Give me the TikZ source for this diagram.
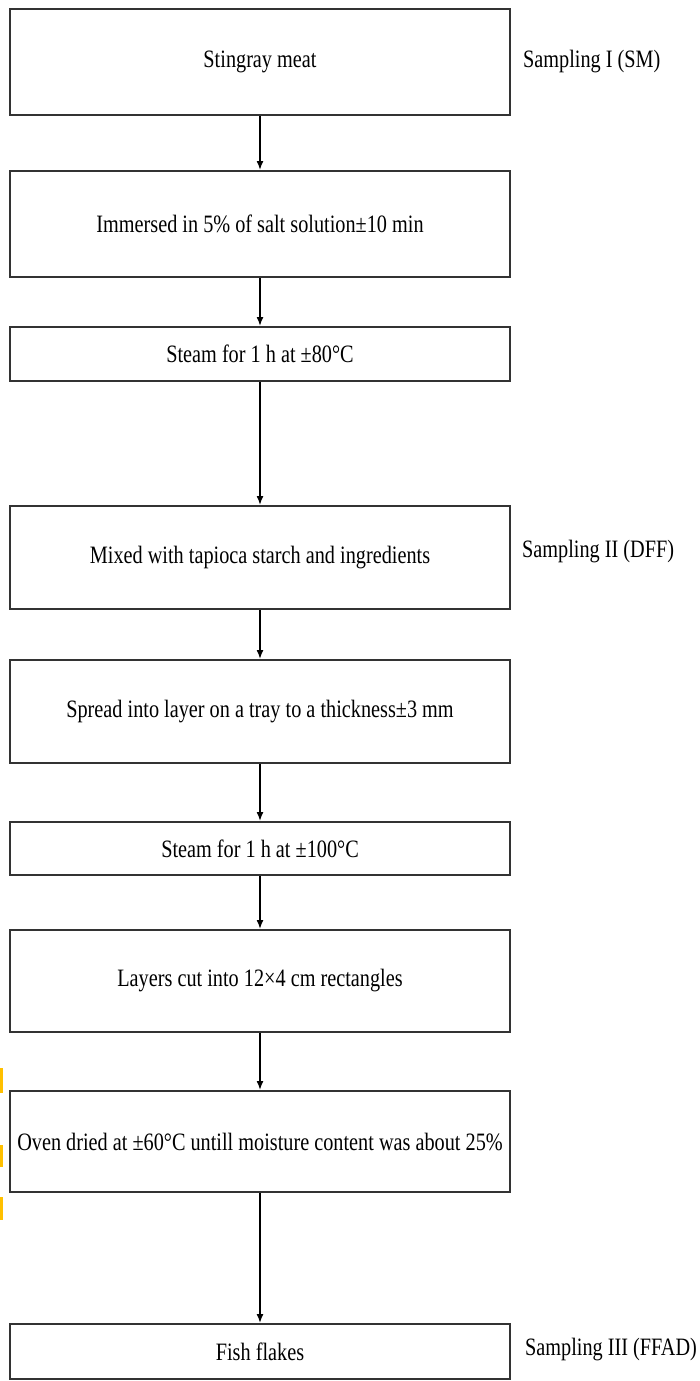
\documentclass[tikz,border=0pt]{standalone}
\usepackage{fontspec}
\setmainfont{Liberation Serif}[FakeStretch=0.81]
\usepackage{tikz}
\usetikzlibrary{positioning, arrows.meta}
\usepackage{xcolor}
\definecolor{boxline}{HTML}{333333}
\definecolor{marker}{HTML}{FFC000}

\begin{document}
\begin{tikzpicture}[x=1pt, y=-1pt,
		font=\fontsize{25}{28}\selectfont,
		>={Latex[length=9pt,width=7pt]},
		stepbox/.style={draw=boxline, line width=2pt, fill=white, inner sep=0pt, minimum width=500pt},
		flow/.style={->, line width=1.5pt, black},
		sampling/.style={anchor=west, inner sep=0pt}]
			\useasboundingbox (0,0) rectangle (700,1381);
			% Process steps
			\node[stepbox, minimum height=106pt] (meat) at (260,62) {Stingray meat};
			\node[stepbox, minimum height=106pt] (salt) at (260,224) {Immersed in 5\% of salt solution±10 min};
			\node[stepbox, minimum height=54pt] (steam1) at (260,354) {Steam for 1 h at ±80°C};
			\node[stepbox, minimum height=103pt] (mix) at (260,557.5) {Mixed with tapioca starch and ingredients};
			\node[stepbox, minimum height=103pt] (spread) at (260,711.5) {Spread into layer on a tray to a thickness±3 mm};
			\node[stepbox, minimum height=53pt] (steam2) at (260,848.5) {Steam for 1 h at ±100°C};
			\node[stepbox, minimum height=102pt] (cut) at (260,981) {Layers cut into 12×4 cm rectangles};
			\node[stepbox, minimum height=101pt] (oven) at (260,1141.5) {Oven dried at ±60°C untill moisture content was about 25\%};
			\node[stepbox, minimum height=55pt] (flakes) at (260,1351.5) {Fish flakes};
			% Sampling points
			\node[sampling] (s1) at (523,62) {Sampling I (SM)};
			\node[sampling] (s2) at (522,552) {Sampling II (DFF)};
			\node[sampling] (s3) at (525,1350) {Sampling III (FFAD)};
			% Arrows
			\draw[flow] (meat) -- (salt);
			\draw[flow] (salt) -- (steam1);
			\draw[flow] (steam1) -- (mix);
			\draw[flow] (mix) -- (spread);
			\draw[flow] (spread) -- (steam2);
			\draw[flow] (steam2) -- (cut);
			\draw[flow] (cut) -- (oven);
			\draw[flow] (oven) -- (flakes);
			% Margin marks
			\fill[marker] (0,1068) rectangle (3,1093);
			\fill[marker] (0,1145) rectangle (3,1167);
			\fill[marker] (0,1197) rectangle (3,1220);
		\end{tikzpicture}
\end{document}
